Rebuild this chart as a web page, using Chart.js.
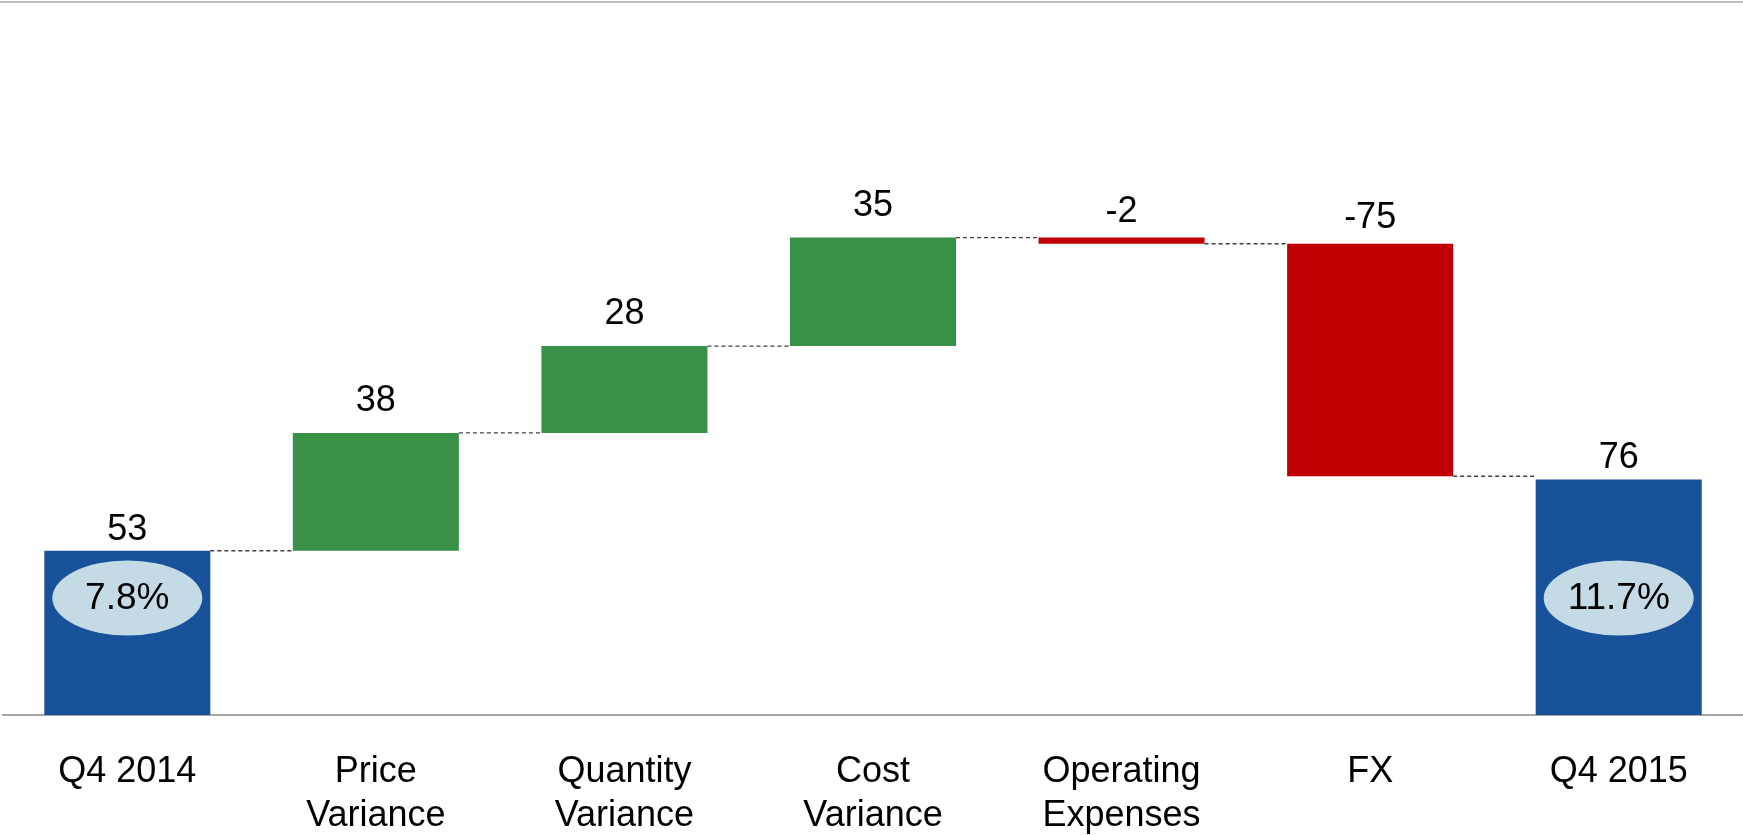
<!DOCTYPE html>
<html>
<head>
<meta charset="utf-8">
<script src="https://cdn.jsdelivr.net/npm/chart.js@4.4.1/dist/chart.umd.min.js"></script>
<style>
  html, body { margin: 0; padding: 0; background: #fff; }
  canvas { display: block; }
</style>
</head>
<body>
<canvas id="bridge" width="1743" height="835"></canvas>
<script>
// EBIT bridge Q4 2014 -> Q4 2015
const categories = [
    ['Q4 2014'],
    ['Price', 'Variance'],
    ['Quantity', 'Variance'],
    ['Cost', 'Variance'],
    ['Operating', 'Expenses'],
    ['FX'],
    ['Q4 2015']
];
const startTotal = 53;
const changes = [38, 28, 35, -2, -75];
const endTotal = 76;
const marginLabels = ['7.8%', '11.7%'];

const BLUE = '#17529a';
const GREEN = '#389147';
const RED = '#c00000';
const FONT = '"Liberation Sans", Arial, sans-serif';

// floating bars: [from, to] built from the running total
const ranges = [[0, startTotal]];
const labels = [String(startTotal)];
const colors = [BLUE];
let running = startTotal;
changes.forEach(c => {
    ranges.push([running, running + c]);
    labels.push(String(c));
    colors.push(c >= 0 ? GREEN : RED);
    running += c;
});
ranges.push([0, endTotal]);
labels.push(String(endTotal));
colors.push(BLUE);

// dashed connectors, value labels, margin ellipses and the frame line
const bridgeDecor = {
    id: 'bridgeDecor',
    afterDatasetsDraw(chart) {
        const ctx = chart.ctx;
        const meta = chart.getDatasetMeta(0);
        const y = chart.scales.y;
        const area = chart.chartArea;
        const last = meta.data.length - 1;

        ctx.save();

        // frame line along the top
        ctx.strokeStyle = '#bcbcbc';
        ctx.lineWidth = 2;
        ctx.beginPath();
        ctx.moveTo(0, 2);
        ctx.lineTo(chart.width, 2);
        ctx.stroke();

        // connectors at the level where each bar ends
        ctx.strokeStyle = '#404040';
        ctx.lineWidth = 1.4;
        ctx.setLineDash([4, 3]);
        for (let i = 0; i < last; i++) {
            const a = meta.data[i];
            const b = meta.data[i + 1];
            const level = y.getPixelForValue(ranges[i][1]);
            ctx.beginPath();
            ctx.moveTo(a.x + a.width / 2, level);
            ctx.lineTo(b.x - b.width / 2, level);
            ctx.stroke();
        }
        ctx.setLineDash([]);

        // value labels above each bar
        ctx.fillStyle = '#000';
        ctx.font = '36px ' + FONT;
        ctx.textAlign = 'center';
        ctx.textBaseline = 'alphabetic';
        meta.data.forEach((bar, i) => {
            const top = y.getPixelForValue(Math.max(ranges[i][0], ranges[i][1]));
            let gap = 22;
            if (i === 0 || i === last) gap = 11;
            else if (changes[i - 1] < 0) gap = 16;
            ctx.fillText(labels[i], bar.x, top - gap);
        });

        // margin ellipses on the two total bars
        ctx.font = '37px ' + FONT;
        [0, last].forEach((idx, k) => {
            const bar = meta.data[idx];
            const cy = area.bottom - 117;
            ctx.fillStyle = '#c4dbe6';
            ctx.beginPath();
            ctx.ellipse(bar.x, cy, 75, 37.5, 0, 0, Math.PI * 2);
            ctx.fill();
            ctx.fillStyle = '#000';
            ctx.textBaseline = 'middle';
            ctx.fillText(marginLabels[k], bar.x, cy + 1);
        });

        ctx.restore();
    }
};

new Chart(document.getElementById('bridge'), {
    type: 'bar',
    data: {
        labels: categories,
        datasets: [{
            data: ranges,
            backgroundColor: colors,
            borderWidth: 0,
            borderSkipped: false,
            categoryPercentage: 1,
            barPercentage: 0.668
        }]
    },
    options: {
        responsive: false,
        animation: false,
        devicePixelRatio: 1,
        layout: { padding: { top: 2, left: 3, right: 0, bottom: 0 } },
        plugins: {
            legend: { display: false },
            tooltip: { enabled: false }
        },
        scales: {
            x: {
                grid: { display: false, drawTicks: false },
                border: { display: true, color: '#a6a6a6', width: 2 },
                ticks: {
                    color: '#000',
                    padding: 35,
                    maxRotation: 0,
                    autoSkip: false,
                    font: { family: FONT, size: 36, lineHeight: 1.22 }
                },
                afterFit(scale) { scale.height = 120; }
            },
            y: {
                display: false,
                min: 0,
                max: 230
            }
        }
    },
    plugins: [bridgeDecor]
});
</script>
</body>
</html>
